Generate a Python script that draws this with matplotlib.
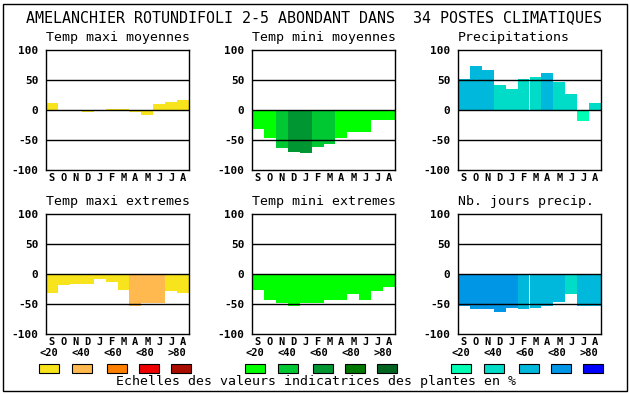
import numpy as np
import matplotlib
matplotlib.use('Agg')
import matplotlib.pyplot as plt
from matplotlib.patches import Rectangle

W, H = 630, 394

months = ['S', 'O', 'N', 'D', 'J', 'F', 'M', 'A', 'M', 'J', 'J', 'A']
classes = ['<20', '<40', '<60', '<80', '>80']

# palettes of the indicator classes
warm = ['#f8e41c', '#ffb94f', '#ff8000', '#ee0000', '#aa0c00']
green = ['#00ff00', '#00c832', '#009632', '#007800', '#006420']
blue = ['#00ffb4', '#00dcc8', '#00b8dc', '#0096e6', '#0000ff']

# values and class index per month
tmax_moy = [12, -2, 0, -4, -2, 2, 2, -4, -8, 10, 14, 17]
tmax_moy_cl = [0, 0, 0, 0, 0, 0, 0, 0, 0, 0, 0, 0]
tmin_moy = [-31, -46, -64, -70, -72, -62, -57, -46, -37, -37, -17, -17]
tmin_moy_cl = [0, 0, 1, 2, 2, 1, 1, 0, 0, 0, 0, 0]
precip = [52, 74, 67, 41, 35, 52, 55, 62, 47, 26, -18, 12]
precip_cl = [2, 2, 2, 1, 1, 1, 1, 2, 1, 1, 0, 1]
tmax_ext = [-31, -18, -16, -16, -8, -13, -26, -53, -49, -48, -28, -31]
tmax_ext_cl = [0, 0, 0, 0, 0, 0, 0, 1, 1, 1, 0, 0]
tmin_ext = [-26, -44, -49, -54, -49, -49, -44, -44, -33, -43, -28, -21]
tmin_ext_cl = [0, 0, 0, 0, 0, 0, 0, 0, 0, 0, 0, 0]
nbj = [-53, -58, -58, -63, -56, -58, -56, -54, -46, -34, -54, -54]
nbj_cl = [3, 3, 3, 3, 3, 2, 2, 2, 2, 1, 2, 2]

panels = [
    ('Temp maxi moyennes', tmax_moy, tmax_moy_cl, warm),
    ('Temp mini moyennes', tmin_moy, tmin_moy_cl, green),
    ('Precipitations', precip, precip_cl, blue),
    ('Temp maxi extremes', tmax_ext, tmax_ext_cl, warm),
    ('Temp mini extremes', tmin_ext, tmin_ext_cl, green),
    ('Nb. jours precip.', nbj, nbj_cl, blue),
]

mono = 'DejaVu Sans Mono'

fig = plt.figure(figsize=(W / 100, H / 100), dpi=100)
fig.patch.set_facecolor('white')


def fx(x):
    return x / W


def fy(y):
    return 1 - y / H


# cadre exterieur
fig.patches.append(Rectangle((fx(3), fy(391)), fx(624), 387 / H, transform=fig.transFigure,
                             fill=False, ec='black', lw=1.0))

fig.text(fx(314), fy(18), 'AMELANCHIER ROTUNDIFOLI 2-5 ABONDANT DANS  34 POSTES CLIMATIQUES',
         family=mono, fontsize=10.8, ha='center', va='center')

lefts = [46, 252, 458]
tops = [50, 214]
aw, ah = 143, 120

for i, (titre, vals, cl, pal) in enumerate(panels):
    x0 = lefts[i % 3]
    y0 = tops[i // 3]
    ax = fig.add_axes([fx(x0), fy(y0 + ah), aw / W, ah / H])
    cols = [pal[c] for c in cl]
    ax.bar(np.arange(12), vals, width=1.0, color=cols, linewidth=0, zorder=1)
    for g in (50, 0, -50):
        ax.axhline(g, color='black', lw=1.0, zorder=2)
    ax.set_xlim(-0.5, 11.5)
    ax.set_ylim(-100, 100)
    ax.set_yticks([-100, -50, 0, 50, 100])
    ax.set_yticklabels(['-100', '-50', '0', '50', '100'], family=mono,
                       fontsize=8, fontweight='bold')
    ax.set_xticks(np.arange(12))
    ax.set_xticklabels(months, family=mono, fontsize=7.5, fontweight='bold')
    ax.tick_params(length=0, axis='y', pad=5.5)
    ax.tick_params(length=0, axis='x', pad=2.5)
    for s in ax.spines.values():
        s.set_linewidth(1.0)
    fig.text(fx(x0), fy(y0 - 12), titre, family=mono, fontsize=9.5,
             ha='left', va='center')

# legende
lab_off = [3, 35, 67, 99, 131]
box_off = [3, 36, 71, 103, 135]
for x0, pal in zip(lefts, [warm, green, blue]):
    for k in range(5):
        fig.text(fx(x0 + lab_off[k]), fy(353), classes[k], family=mono, fontsize=7.5,
                 fontweight='bold', ha='center', va='center')
        cx = x0 + box_off[k]
        fig.patches.append(Rectangle((fx(cx - 10), fy(373)), 20 / W, 9 / H,
                                     transform=fig.transFigure, fc=pal[k],
                                     ec='black', lw=0.8))

fig.text(fx(316), fy(382), 'Echelles des valeurs indicatrices des plantes en %',
         family=mono, fontsize=9.5, ha='center', va='center')

fig.savefig('out.png', dpi=100, facecolor='white')
